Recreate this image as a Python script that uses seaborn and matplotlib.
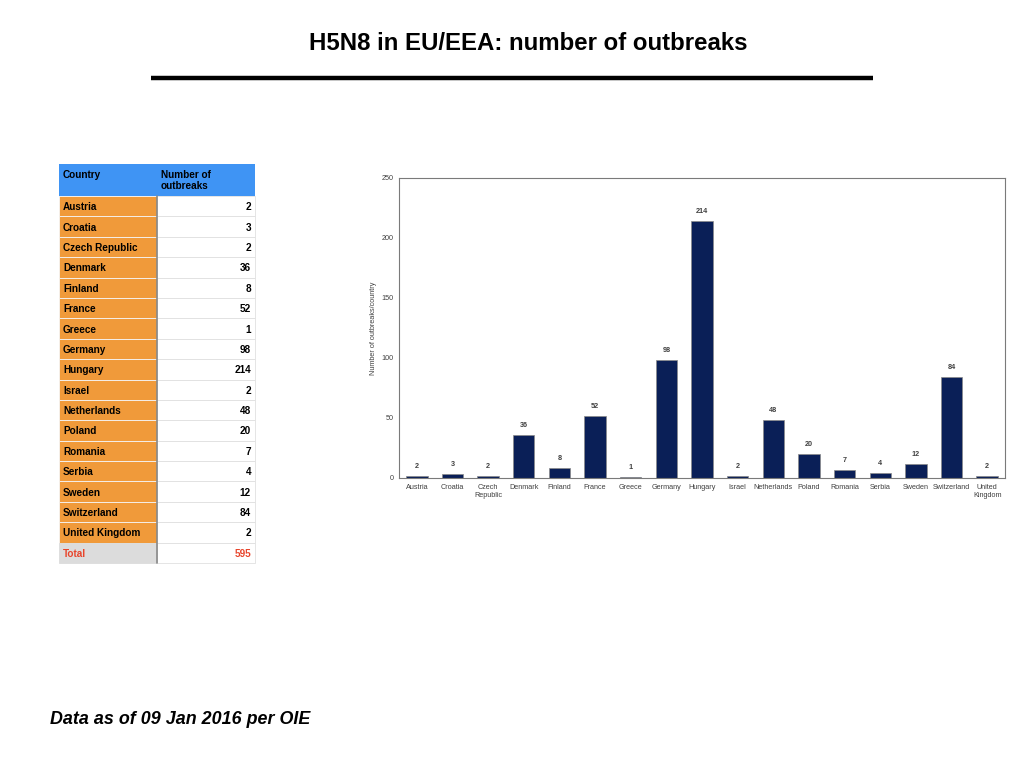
import matplotlib
matplotlib.use("Agg")
import matplotlib.pyplot as plt
import seaborn as sns
import pandas as pd
from matplotlib.patches import Rectangle

countries = ["Austria", "Croatia", "Czech Republic", "Denmark", "Finland", "France",
             "Greece", "Germany", "Hungary", "Israel", "Netherlands", "Poland",
             "Romania", "Serbia", "Sweden", "Switzerland", "United Kingdom"]
outbreaks = [2, 3, 2, 36, 8, 52, 1, 98, 214, 2, 48, 20, 7, 4, 12, 84, 2]
tick_labels = ["Austria", "Croatia", "Czech\nRepublic", "Denmark", "Finland", "France",
               "Greece", "Germany", "Hungary", "Israel", "Netherlands", "Poland",
               "Romania", "Serbia", "Sweden", "Switzerland", "United\nKingdom"]
yticks = [0, 50, 100, 150, 200, 250]

title = "H5N8 in EU/EEA: number of outbreaks"
footer = "Data as of 09 Jan 2016 per OIE"
ylabel = "Number of outbreaks/country"

sns.set_theme(style="white")
plt.rcParams['font.family'] = ['Liberation Sans', 'DejaVu Sans']
plt.rcParams['text.color'] = 'black'

W, H = 1024, 768
fig = plt.figure(figsize=(W / 100, H / 100), dpi=100)

# Title and rule
fig.text(528 / W, 1 - 43 / H, title, ha="center", va="center",
         fontsize=17.3, fontweight="bold", color="black")
fig.add_artist(plt.Line2D([151 / W, 873 / W], [1 - 78 / H, 1 - 78 / H],
                          color="black", lw=3.2, solid_capstyle="butt"))
fig.text(50 / W, 1 - 720 / H, footer, ha="left", va="center",
         fontsize=12.9, fontweight="bold", fontstyle="italic", color="black")

# Bar chart
ax = fig.add_axes([399 / W, 1 - 478 / H, (1005 - 399) / W, (478 - 178) / H])
df = pd.DataFrame({"country": countries, "outbreaks": outbreaks})
sns.barplot(data=df, x="country", y="outbreaks", color="#0a1f57",
            saturation=1, width=0.6, edgecolor="#8a8a8a", linewidth=0.5, ax=ax)
ax.set_xlim(-0.5, len(countries) - 0.5)
ax.set_ylim(0, 250)
ax.set_yticks(yticks)
ax.set_yticklabels([str(v) for v in yticks], fontsize=5.2, color="#404040")
ax.set_xticks(range(len(countries)))
ax.set_xticklabels(tick_labels, fontsize=5.2, color="#404040", linespacing=1.3)
ax.tick_params(axis="both", length=0, pad=4)
ax.set_xlabel("")
ax.set_ylabel(ylabel, fontsize=5.2, color="#404040", labelpad=3)
for s in ax.spines.values():
    s.set_color("#7a7a7a")
    s.set_linewidth(0.8)
for i, v in enumerate(outbreaks):
    ax.text(i, v + 5, str(v), ha="center", va="bottom", fontsize=5.2,
            fontweight="bold", color="#404040")

# Table
tax = fig.add_axes([0, 0, 1, 1])
tax.set_xlim(0, W)
tax.set_ylim(H, 0)
tax.axis("off")
x0, x1, x2 = 59, 157, 255
hy0, hy1 = 164, 196
rows = countries + ["Total"]
vals = [str(v) for v in outbreaks] + [str(sum(outbreaks))]
rh = (563 - hy1) / len(rows)
tax.add_patch(Rectangle((x0, hy0), x2 - x0, hy1 - hy0, color="#3f94f4", lw=0))
tax.text(x0 + 4, hy0 + 5.5, "Country", ha="left", va="top", fontsize=7.2,
         fontweight="bold", color="black")
tax.text(x1 + 4, hy0 + 5.5, "Number of\noutbreaks", ha="left", va="top",
         fontsize=7.2, fontweight="bold", linespacing=1.2, color="black")
for i, (name, val) in enumerate(zip(rows, vals)):
    y = hy1 + i * rh
    total = name == "Total"
    tax.add_patch(Rectangle((x0, y), x1 - x0, rh,
                            facecolor="#dcdcdc" if total else "#f09a3a",
                            edgecolor="#f5f5f5" if not total else "#dcdcdc", lw=0.6))
    tax.add_patch(Rectangle((x1, y), x2 - x1, rh, facecolor="white",
                            edgecolor="#e0e0e0", lw=0.6))
    col = "#e8452c" if total else "black"
    tax.text(x0 + 4, y + rh / 2 + 1, name, ha="left", va="center", fontsize=7.2,
             fontweight="bold", color=col)
    tax.text(x2 - 4, y + rh / 2 + 1, val, ha="right", va="center", fontsize=7.2,
             fontweight="bold", color=col)
tax.add_artist(plt.Line2D([x1, x1], [hy1, 563], color="#888888", lw=1.2))

fig.savefig("out.png", dpi=100)
